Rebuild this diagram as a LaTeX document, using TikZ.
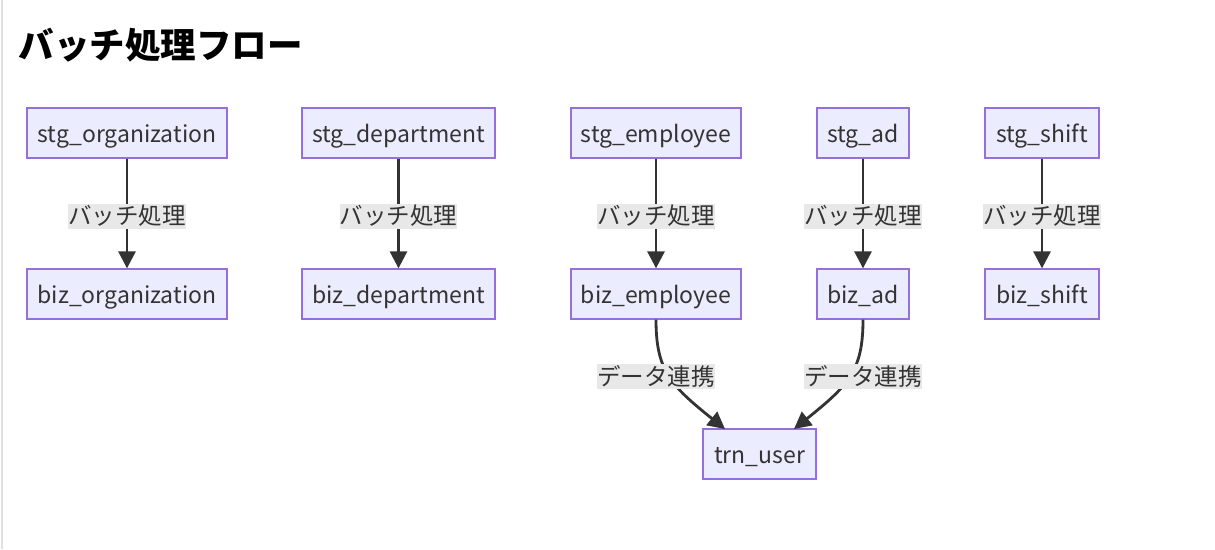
\documentclass[tikz,border=0pt]{standalone}
\usepackage{fontspec}
\setmainfont{Noto Sans CJK JP}
\usetikzlibrary{arrows.meta}
\definecolor{boxfill}{HTML}{ECECFF}
\definecolor{boxline}{HTML}{9370DB}
\definecolor{ink}{HTML}{333333}
\definecolor{lblbg}{HTML}{E8E8E8}
\tikzset{
  tbl/.style={draw=boxline, fill=boxfill, line width=1.3pt, minimum height=50pt,
    inner xsep=2pt, inner ysep=0pt, text height=18pt, text depth=0pt,
    text=ink, font=\fontsize{23}{27}\selectfont},
  lbl/.style={fill=lblbg, inner xsep=0pt, inner ysep=0pt, minimum height=25pt, text=ink,
    font=\fontsize{23.5}{27}\selectfont},
  flow/.style={draw=ink, line width=2.8pt, -{Triangle[length=17pt,width=17pt]}},
}
\begin{document}
\begin{tikzpicture}[x=1pt,y=-1pt]
\useasboundingbox (0,0) rectangle (1215,549);
\fill[white] (0,0) rectangle (1215,549);
\draw[black!12, line width=1.5pt] (2,0) -- (2,549);
\node[anchor=base west, font=\bfseries\fontsize{35.5}{40}\selectfont] (title) at (15,58) {バッチ処理フロー};

\node[tbl, minimum width=200pt] (so) at (127,133) {stg\_organization};
\node[tbl, minimum width=193pt] (sd) at (398.5,133) {stg\_department};
\node[tbl, minimum width=170pt] (se) at (656,133) {stg\_employee};
\node[tbl, minimum width=92pt] (sa) at (863,133) {stg\_ad};
\node[tbl, minimum width=114pt] (ss) at (1042,133) {stg\_shift};

\node[tbl, minimum width=200pt] (bo) at (127,294) {biz\_organization};
\node[tbl, minimum width=193pt] (bd) at (398.5,294) {biz\_department};
\node[tbl, minimum width=170pt] (be) at (656,294) {biz\_employee};
\node[tbl, minimum width=92pt] (ba) at (863,294) {biz\_ad};
\node[tbl, minimum width=114pt] (bs) at (1042,294) {biz\_shift};

\node[tbl, minimum width=113pt] (tu) at (759.5,454) {trn\_user};

\coordinate (tuL) at (725,429);
\coordinate (tuR) at (794,429);

\draw[flow] (so) -- (bo);
\draw[flow] (sd) -- (bd);
\draw[flow] (se) -- (be);
\draw[flow] (sa) -- (ba);
\draw[flow] (ss) -- (bs);
\draw[flow] (be.south) .. controls (656,370) and (670,385) .. (tuL);
\draw[flow] (ba.south) .. controls (863,370) and (849,385) .. (tuR);

\node[lbl] (l1) at (127,216) {バッチ処理};
\node[lbl] (l2) at (398.5,216) {バッチ処理};
\node[lbl] (l3) at (656,216) {バッチ処理};
\node[lbl] (l4) at (863,216) {バッチ処理};
\node[lbl] (l5) at (1042,216) {バッチ処理};
\node[lbl] (l6) at (656,376) {データ連携};
\node[lbl] (l7) at (863,376) {データ連携};
\end{tikzpicture}
\end{document}
